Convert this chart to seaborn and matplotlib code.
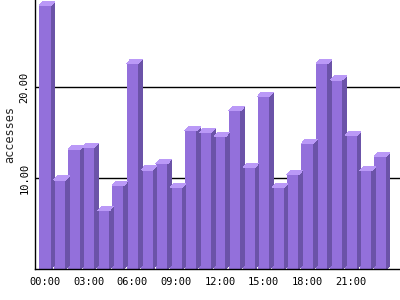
import matplotlib
matplotlib.use("Agg")
import matplotlib.pyplot as plt
import seaborn as sns
import pandas as pd
from matplotlib.patches import Polygon

hours = [f"{h:02d}:00" for h in range(24)]
accesses = [29.0, 9.8, 13.2, 13.4, 6.4, 9.2, 22.6, 10.9, 11.6, 9.0, 15.2, 15.0,
            14.6, 17.4, 11.2, 19.0, 9.0, 10.4, 13.8, 22.6, 20.8, 14.7, 10.8, 12.4]
y_ticks = [10, 20]
y_tick_labels = ["10.00", "20.00"]
x_tick_pos = list(range(0, 24, 3))

front = "#9370DB"
side = "#6B53A8"
top = "#BA99F7"

sns.set_theme(style="white")
plt.rcParams['font.family'] = ['DejaVu Sans Mono', 'DejaVu Sans']

fig = plt.figure(figsize=(4, 3), dpi=100)
ax = fig.add_axes([0.0875, 0.103, 0.9125, 0.897])

df = pd.DataFrame({"hour": hours, "accesses": accesses})
sns.barplot(data=df, x="hour", y="accesses", color=front, saturation=1,
            width=0.82, ax=ax, zorder=3, edgecolor="none", linewidth=0)

ax.set_xlim(-0.69, 24.36)
ax.set_ylim(0, 29.6)

# 3D side and top faces, derived from each bar's geometry
dx = 0.26
dy = 0.45
for p in ax.patches[:]:
    p.set_antialiased(False)
    x0 = p.get_x()
    w = p.get_width()
    h = p.get_height()
    x1 = x0 + w
    ax.add_patch(Polygon([(x1, 0), (x1, h), (x1 + dx, h + dy), (x1 + dx, dy)],
                         closed=True, facecolor=side, edgecolor="none",
                         linewidth=0, zorder=3, antialiased=False))
    ax.add_patch(Polygon([(x0, h), (x1, h), (x1 + dx, h + dy), (x0 + dx, h + dy)],
                         closed=True, facecolor=top, edgecolor="none",
                         linewidth=0, zorder=3, antialiased=False))

ax.set_yticks(y_ticks)
ax.set_yticklabels(y_tick_labels, rotation=90, va="center", fontsize=7.5)
ax.set_xticks(x_tick_pos)
ax.set_xticklabels([hours[i] for i in x_tick_pos], fontsize=7.5)
ax.tick_params(axis="both", length=0, colors="black")
ax.tick_params(axis="x", pad=6)
ax.tick_params(axis="y", pad=4)
ax.set_xlabel("")
ax.set_ylabel("accesses", fontsize=8.5, labelpad=2)

ax.grid(False)
for y in y_ticks:
    ax.axhline(y, color="black", linewidth=1, zorder=1)

for s in ["top", "right"]:
    ax.spines[s].set_visible(False)
for s in ["left", "bottom"]:
    ax.spines[s].set_color("black")
    ax.spines[s].set_linewidth(1)
    ax.spines[s].set_zorder(4)

fig.savefig("out.png", dpi=100)
